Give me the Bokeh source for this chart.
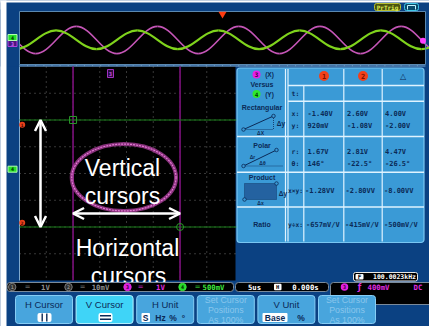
import numpy as np
from bokeh.plotting import figure
from bokeh.models import Range1d, Arrow, OpenHead
from bokeh.core.properties import value
from bokeh.embed import file_html
from bokeh.resources import INLINE

# ---------------- values ----------------
# upper YT strip: extrema of the two traces (time in us, level in V)
ch3_ext_t = [-28, -23, -18, -13, -8, -3, 2, 7, 12, 17, 22, 27]
ch3_ext_v = [2.45, -1.45, 2.45, -1.45, 2.45, -1.45, 2.45, -1.45, 2.45, -1.45, 2.45, -1.45]
ch4_ext_t = [-25.5, -20.5, -15.5, -10.5, -5.5, -0.5, 4.5, 9.5, 14.5, 19.5, 24.5, 29.5]
ch4_ext_v = [-0.78, 0.47, -0.78, 0.47, -0.78, 0.47, -0.78, 0.47, -0.78, 0.47, -0.78, 0.47]
trig_level_v = 0.40
# XY cursors (ch3 = X, ch4 = Y), volts
cursor_x = [-1.40, 2.60]
cursor_y = [0.92, -1.08]
ref_marker_v = [0.83, -1.00]          # red "1"/"2" reference markers, ch4 volts
ref_marker_lbl = ["1", "2"]
# readout table
col_heads = ["1", "2", "\u25b3"]
rect_x_vals = ["-1.40V", "2.60V", "4.00V"]
rect_y_vals = ["920mV", "-1.08V", "-2.00V"]
polar_r_vals = ["1.67V", "2.81V", "4.47V"]
polar_t_vals = ["146\u00b0", "-22.5\u00b0", "-26.5\u00b0"]
product_vals = ["-1.28VV", "-2.80VV", "-8.00VV"]
ratio_vals = ["-657mV/V", "-415mV/V", "-500mV/V"]
row_names = ["Rectangular", "Polar", "Product", "Ratio"]
# status bar
ch_ids = ["1", "2", "3", "4"]
ch_scales = ["1V", "10mV", "1V", "500mV"]
timebase = "5us"
h_position = "0.000s"
trig_source = "3"
trig_level_txt = "400mV"
trig_coupling = "DC"
frequency = "100.0023kHz"
button_labels = ["H Cursor", "V Cursor", "H Unit", "Set Cursor\nPositions\nAs 100%",
                 "V Unit", "Set Cursor\nPositions\nAs 100%"]
button_state = ["on", "sel", "on", "dim", "on", "dim"]
notes = ["Vertical", "cursors", "Horizontal", "cursors"]

# ---------------- styling ----------------
BG = "#0b4182"
BLACK = "#000000"
EDGE = "#5a88b0"
GRID = "#6e6e6e"
C3 = "#c455b6"
C4 = "#7fd31c"
C3T = "#e22de2"
C4T = "#3ee83e"
CUR_V = "#6e0f6e"
CUR_H = "#1b7f1b"
TBG = "#3a9ad6"
TEDGE = "#79c6f2"
TLINE = "#dff3ff"
NAVY = "#0b2a57"
BTN = "#48a5dd"
BTN_EDGE = "#86cdf5"
BTN_SEL = "#3fd4f7"
BTN_SEL_EDGE = "#b3f0ff"
DIM = "#8ac6ec"
GRAYT = "#8f8f8f"
SANS = "Liberation Sans"
MONO = "DejaVu Sans Mono"

W, H = 429, 326
X0, X1 = 0, 429
Y0, Y1 = 0, 326

p = figure(width=W, height=H, x_range=Range1d(X0, X1), y_range=Range1d(Y1, Y0),
           output_backend="svg", toolbar_location=None, min_border=0,
           x_axis_location=None, y_axis_location=None)
p.grid.visible = False
p.outline_line_color = None
p.background_fill_color = BG
p.border_fill_color = BG


def mapped(v_a, s_a, v_b, s_b, s_lo, s_hi):
    k = (v_b - v_a) / (s_b - s_a)
    return Range1d(start=v_a + (s_lo - s_a) * k, end=v_a + (s_hi - s_a) * k)


TP_L, TP_R, TP_T, TP_B = 19, 425, 11, 64
XY_L, XY_R, XY_T, XY_B = 19, 235, 66, 280
DIV = 26.75
TDIV = (TP_R - TP_L) / 10

p.extra_x_ranges = {
    "t": mapped(0, (TP_L + TP_R) / 2, 5, (TP_L + TP_R) / 2 + TDIV, X0, X1),
    "xv": mapped(0, 110, 1, 110 + DIV, X0, X1),
}
p.extra_y_ranges = {
    "c3": mapped(0, 43, 1, 36, Y1, Y0),
    "c4": mapped(0, 37, 1, 22, Y1, Y0),
    "yv": mapped(0, 168.7, 1, 168.7 - 2 * DIV, Y1, Y0),
}


def box(l, r, t, b, fill, line=None, lw=1.0, radius=0, alpha=1.0, dash="solid"):
    p.quad(left=[l], right=[r], top=[t], bottom=[b], fill_color=fill, fill_alpha=alpha,
           line_color=line, line_width=lw, border_radius=int(round(radius)), line_dash=dash)


def label(x, y, s, size, color, font=SANS, align="center", baseline="middle", bold=False,
          xr="default", yr="default", lh=1.2):
    p.text(x=[x], y=[y], text=[s], text_font=value(font), text_font_size=f"{size}px",
           text_color=color, text_align=align, text_baseline=baseline,
           text_font_style="bold" if bold else "normal", text_line_height=lh,
           x_range_name=xr, y_range_name=yr)


def half_cycles(ts, vs):
    t0 = np.array(ts[:-1], float)
    t1 = np.array(ts[1:], float)
    v0 = np.array(vs[:-1], float)
    v1 = np.array(vs[1:], float)
    h = (t1 - t0) * (np.pi - 2) / np.pi
    return dict(x0=t0, y0=v0, x1=t1, y1=v1, cx0=t0 + h, cy0=v0, cx1=t1 - h, cy1=v1)


# ---------------- upper YT strip ----------------
box(TP_L, TP_R, TP_T, TP_B, BLACK)
for ts, vs, rn, col, lw in [(ch3_ext_t, ch3_ext_v, "c3", C3, 1.6),
                            (ch4_ext_t, ch4_ext_v, "c4", C4, 2.2)]:
    p.bezier(**half_cycles(ts, vs), x_range_name="t", y_range_name=rn,
             line_color=col, line_width=lw)
box(X0 - 1, TP_L - 0.5, TP_T - 2, TP_B + 2, BG)
p.quad(left=[TP_L], right=[TP_R], top=[TP_T], bottom=[TP_B], fill_color=None,
       line_color=EDGE, line_width=1)
tick_x = np.arange(TP_L, TP_R, TDIV / 5)
p.segment(x0=tick_x, y0=[TP_B] * len(tick_x), x1=tick_x, y1=[TP_B + 1.8] * len(tick_x),
          line_color=EDGE, line_width=1)
p.scatter(x=[0], y=[13.5], x_range_name="t", marker="inverted_triangle", size=8,
          fill_color="#ff3b0f", line_color=None)
p.scatter(x=[422.5], y=[trig_level_v], y_range_name="c3", marker="circle", size=6,
          fill_color="#ff40ff", line_color=None)
p.rect(x=[12], y=[0], width=[9], height=[6], width_units="screen", height_units="screen",
       y_range_name="c3", fill_color="#4a1680", line_color="#b040e0")
label(12, 0, "3", 5, "#d070ff", MONO, bold=True, yr="c3")
p.rect(x=[12], y=[0], width=[9], height=[6], width_units="screen", height_units="screen",
       y_range_name="c4", fill_color="#28e028", line_color="#b0ffb0")
label(12, 0, "4", 5, "#003000", MONO, bold=True, yr="c4")

# PrTrig tag and icon
box(374, 400, 3, 10, "#4a5410", "#b8c030", 1, 2)
label(387, 6.6, "PrTrig", 6, "#e0f050", MONO, bold=True)
box(404, 418, 3, 10, "#0b4a6a", "#40c8e8", 1, 2)
p.segment(x0=[407, 407, 415], y0=[5, 5, 5], x1=[415, 407, 415], y1=[5, 9, 9],
          line_color="#bff4ff", line_width=1)

# ---------------- XY display ----------------
box(XY_L, XY_R, XY_T, XY_B, BLACK)
gx = [XY_L + DIV * k for k in range(1, 8)]
gy = [XY_T + DIV * k for k in range(1, 8)]
p.segment(x0=gx, y0=[XY_T] * 7, x1=gx, y1=[XY_B] * 7, line_color=GRID, line_dash="1 4")
p.segment(x0=[XY_L] * 7, y0=gy, x1=[XY_R] * 7, y1=gy, line_color=GRID, line_dash="1 4")
p.segment(x0=[XY_L, XY_L], y0=[XY_T - 0.5, XY_T], x1=[TP_R, XY_L], y1=[XY_T - 0.5, XY_B],
          line_color="#7fa8cc", line_width=1)

p.segment(x0=cursor_x, y0=[XY_T] * 2, x1=cursor_x, y1=[XY_B] * 2, x_range_name="xv",
          line_color=CUR_V, line_width=1.8)
p.segment(x0=[XY_L] * 2, y0=cursor_y, x1=[237] * 2, y1=cursor_y, y_range_name="yv",
          line_color=CUR_H, line_width=1.2)
p.scatter(x=[cursor_x[0]], y=[cursor_y[0]], marker="square", size=7, fill_color=None,
          line_color="#2a9a2a", x_range_name="xv", y_range_name="yv")
p.scatter(x=[cursor_x[1]], y=[cursor_y[1]], marker="circle", size=7, fill_color=None,
          line_color="#2a9a2a", x_range_name="xv", y_range_name="yv")

# Lissajous trace of ch3 (X) against ch4 (Y)
cx = (max(ch3_ext_v) + min(ch3_ext_v)) / 2
cy = (max(ch4_ext_v) + min(ch4_ext_v)) / 2
ew = max(ch3_ext_v) - min(ch3_ext_v)
eh = max(ch4_ext_v) - min(ch4_ext_v)
p.ellipse(x=[cx], y=[cy], width=[ew], height=[eh], x_range_name="xv", y_range_name="yv",
          fill_color=None, line_color="#a83c98", line_width=4, line_alpha=0.8)
p.ellipse(x=[cx], y=[cy], width=[ew], height=[eh], x_range_name="xv", y_range_name="yv",
          fill_color=None, line_color="#e27ad2", line_width=1.2, line_dash="2 1")

p.scatter(x=[21.7, 21.7], y=ref_marker_v, y_range_name="yv", marker="circle", size=6,
          fill_color="#e8401a", line_color=None)
for v, s in zip(ref_marker_v, ref_marker_lbl):
    label(21.7, v, s, 4.5, "#400000", MONO, bold=True, yr="yv")
p.rect(x=[0], y=[73], width=[6], height=[8], width_units="screen", height_units="screen",
       x_range_name="xv", fill_color="#2a0a3a", line_color="#a030c0")
label(0, 73, "3", 5.5, "#c050e0", MONO, bold=True, xr="xv")
p.rect(x=[12], y=[0], width=[9], height=[6], width_units="screen", height_units="screen",
       y_range_name="yv", fill_color="#28e028", line_color="#b0ffb0")
label(12, 0, "4", 5, "#003000", MONO, bold=True, yr="yv")

# white annotations
p.add_layout(Arrow(start=OpenHead(size=11, line_color="white", line_width=2.5),
                   end=OpenHead(size=11, line_color="white", line_width=2.5),
                   x_start=40, y_start=cursor_y[0], x_end=40, y_end=cursor_y[1],
                   y_range_name="yv", line_color="white", line_width=2.5))
p.add_layout(Arrow(start=OpenHead(size=11, line_color="white", line_width=2.5),
                   end=OpenHead(size=11, line_color="white", line_width=2.5),
                   x_start=cursor_x[0], y_start=213, x_end=cursor_x[1], y_end=213,
                   x_range_name="xv", line_color="white", line_width=2.5))
for s, x, y in zip(notes, [122, 122, 127, 128], [167, 195, 247, 275]):
    label(x, y, s, 23, "white", SANS, baseline="alphabetic")

# ---------------- readout table ----------------
TL, TR, TT, TB = 236.5, 423.5, 67.5, 242
box(TL, TR, TT, TB, TBG, TEDGE, 1.2, 3)
vx = [285, 287.5, 303.3, 343.3, 381.7]
vy0 = [TT + 1, TT + 1, 85, TT + 1, TT + 1]
p.segment(x0=vx, y0=vy0, x1=vx, y1=[TB - 1] * 5, line_color=TLINE, line_width=1.2)
hy = [85, 100.7, 136, 171.7, 206.5]
hx0 = [287.5, 287.5, TL, TL, TL]
p.segment(x0=hx0, y0=hy, x1=[TR] * 5, y1=hy, line_color=TLINE, line_width=1.4)

# left header
p.scatter(x=[256, 256], y=[74, 93.5], marker="circle", size=8,
          fill_color=["#e81ee8", "#2ee82e"], line_color=None)
label(256, 74, "3", 6, "#3a003a", MONO, bold=True)
label(256, 93.5, "4", 6, "#003a00", MONO, bold=True)
label(269, 74, "(X)", 6.5, NAVY, SANS, bold=True)
label(269, 93.5, "(Y)", 6.5, NAVY, SANS, bold=True)
label(261.5, 84, "Versus", 7, NAVY, SANS, bold=True)
for s, y in zip(row_names, [106.5, 145, 177, 224]):
    label(261.5, y, s, 7, NAVY, SANS, bold=True)

# rectangular sketch
p.segment(x0=[243], y0=[129], x1=[273], y1=[115.5], line_color=NAVY, line_width=1)
p.segment(x0=[243, 273], y0=[129, 115.5], x1=[273, 273], y1=[129, 129], line_color=NAVY,
          line_dash="1 1", line_width=0.8)
p.scatter(x=[243, 273], y=[129, 115.5], marker="circle", size=3.5, fill_color=TBG,
          line_color=NAVY, line_width=0.8)
label(280.5, 123, "\u0394y", 6.5, NAVY, SANS, bold=True)
label(260, 132.5, "\u0394X", 5, NAVY, SANS, bold=True)
# polar sketch
p.segment(x0=[243], y0=[165.5], x1=[276], y1=[149.5], line_color=NAVY, line_width=1)
p.segment(x0=[243], y0=[165.5], x1=[282], y1=[165.5], line_color=NAVY, line_dash="1 1",
          line_width=0.8)
p.scatter(x=[243, 276], y=[165.5, 149.5], marker="circle", size=3.5, fill_color=TBG,
          line_color=NAVY, line_width=0.8)
label(252, 156, "\u0394r", 5, NAVY, SANS, bold=True)
label(262, 162.5, "\u0394\u03b8", 5, NAVY, SANS, bold=True)
# product sketch
box(244, 276, 183, 199, "#2462a0", NAVY, 0.8, 0, 1.0, "1 1")
p.scatter(x=[244, 276], y=[199, 183], marker="circle", size=3.5, fill_color=TBG,
          line_color=NAVY, line_width=0.8)
label(282.5, 193, "\u0394y", 6.5, NAVY, SANS, bold=True)
label(260, 202.5, "\u0394x", 5, NAVY, SANS, bold=True)

# column heads
p.scatter(x=[323.5, 362.5], y=[75.5, 75.5], marker="circle", size=10,
          fill_color="#f2401a", line_color=None)
label(323.5, 75.5, col_heads[0], 7, "#7a1000", MONO, bold=True)
label(362.5, 75.5, col_heads[1], 7, "#7a1000", MONO, bold=True)
label(402.5, 76, col_heads[2], 8, NAVY, "DejaVu Sans", bold=True)

# row tags
for s, y in zip(["t:", "x:", "y:", "r:", "\u03b8:"], [93, 113, 125, 151, 163]):
    label(295, y, s, 6.5, NAVY, MONO, bold=True)
label(295, 190, "x\u00d7y:", 6.3, NAVY, MONO, bold=True)
label(295, 224, "y\u00f7x:", 6.3, NAVY, MONO, bold=True)

# values
col_left = [307, 346.5, 384.5]
for vals, y in [(rect_x_vals, 113), (rect_y_vals, 125), (polar_r_vals, 151),
                (polar_t_vals, 163)]:
    for x, s in zip(col_left, vals):
        label(x, y, s, 7, NAVY, MONO, align="left", bold=True)
for x, s in zip([304.5, 345, 383.5], product_vals):
    label(x, 190, s, 7, NAVY, MONO, align="left", bold=True)
for x, s in zip([305.5, 344.5, 383.5], ratio_vals):
    label(x, 224, s, 7, NAVY, MONO, align="left", bold=True)

# ---------------- frequency counter ----------------
box(353, 417, 272, 280.5, BLACK, "#e8e8e8", 1, 2)
box(355, 363, 273.5, 279, "white", None, 1, 1)
label(359, 276.3, "F", 6, BLACK, MONO, bold=True)
label(394, 276.5, frequency, 6.5, "white", MONO, bold=True)

# ---------------- status bar ----------------
SY = 286.5
box(6.5, 233, 282, 291, BLACK, "#7a8a9a", 1, 3)
box(235, 328, 282, 291, BLACK, "#7a8a9a", 1, 3)
box(330, 432, 282, 304, BLACK, "#7a8a9a", 1, 3)
ch_cols = [GRAYT, GRAYT, C3T, C4T]
ch_fill = ["#303030", "#303030", "#e020e0", "#28d828"]
ch_num = [GRAYT, GRAYT, "#300030", "#002800"]
for cid, sc, col, fc, nc, xc, xk, xs in zip(ch_ids, ch_scales, ch_cols, ch_fill, ch_num,
                                            [11.7, 68, 127, 182], [27, 82, 140, 197],
                                            [45, 100, 160, 213]):
    p.scatter(x=[xc], y=[SY], marker="circle", size=7.5, fill_color=fc, line_color=col,
              line_width=0.8)
    label(xc, SY, cid, 5, nc, MONO, bold=True)
    label(xk, SY, "\u2550", 7, col, MONO, bold=True)
    label(xs, SY, sc, 7.3, col, MONO, bold=True)
label(254, SY, timebase, 7.3, "white", MONO, bold=True)
box(273.5, 281, 283.3, 289.7, "white", None, 1, 1)
label(277.2, SY, "H", 5.5, BLACK, MONO, bold=True)
label(305, SY, h_position, 7.3, "white", MONO, bold=True)
p.scatter(x=[344], y=[SY], marker="circle", size=7.5, fill_color="#e020e0", line_color=None)
label(344, SY, trig_source, 5, "#300030", MONO, bold=True)
label(359, SY, "\u0192", 8, C3T, "DejaVu Sans", bold=True)
label(378, SY, trig_level_txt, 7.3, C3T, MONO, bold=True)
label(417.5, SY, trig_coupling, 7.3, C3T, MONO, bold=True)

# ---------------- soft-key buttons ----------------
BT, BB = 295, 323
for i, (txt, st) in enumerate(zip(button_labels, button_state)):
    l = 15 + 60.6 * i
    r = l + 57
    c = (l + r) / 2
    fill = BTN_SEL if st == "sel" else BTN
    edge = BTN_SEL_EDGE if st == "sel" else BTN_EDGE
    box(l, r, BT, BB, fill, edge, 1, 3)
    if st == "dim":
        label(c, 309.5, txt, 8.8, DIM, SANS, lh=0.97)
    else:
        label(c, 304, txt, 9.5, NAVY, SANS)

# icons under the labels
box(37, 51, 312.5, 321.5, "white", None, 1, 2)
p.segment(x0=[41.7, 46.3], y0=[313, 313], x1=[41.7, 46.3], y1=[321, 321], line_color=NAVY,
          line_width=1.4)
box(98, 112, 312.5, 321.5, "white", None, 1, 2)
p.segment(x0=[99.5, 99.5], y0=[315.2, 318.8], x1=[110.5, 110.5], y1=[315.2, 318.8],
          line_color=NAVY, line_width=1.4)
box(141, 149.5, 312.5, 321.5, "white", None, 1, 1)
label(145.2, 317, "S", 8.5, NAVY, SANS, bold=True)
label(160, 317, "Hz", 8.5, NAVY, SANS, bold=True)
label(172.5, 317, "%", 8.5, NAVY, SANS, bold=True)
label(183, 317, "\u00b0", 8.5, NAVY, SANS, bold=True)
box(262, 287, 312.5, 321.5, "white", None, 1, 1)
label(274.5, 317, "Base", 8.5, NAVY, SANS, bold=True)
label(300.5, 317, "%", 8.5, NAVY, SANS, bold=True)

# white page edge seen at the screenshot's left and top
box(-1, 6, -1, 327, "white")
box(-1, 430, -1, 2, "white")

open("out.html", "w").write(file_html(p, INLINE))
